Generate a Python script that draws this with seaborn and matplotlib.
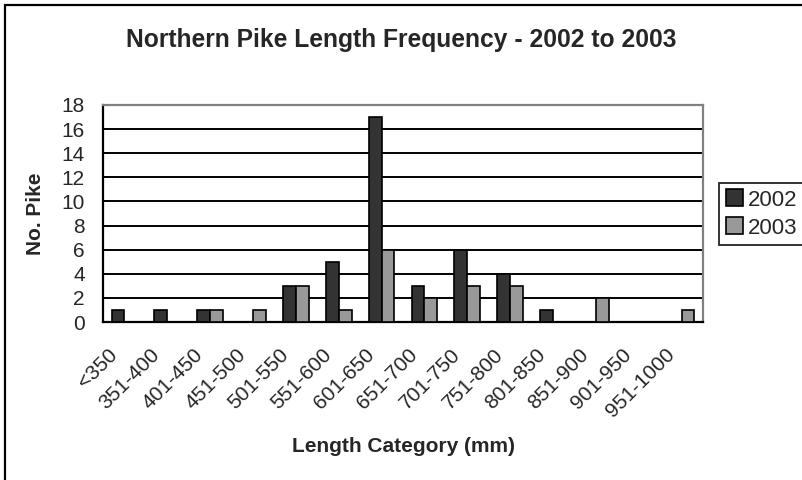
import matplotlib
matplotlib.use("Agg")
import matplotlib.pyplot as plt
import matplotlib.transforms as mtransforms
import seaborn as sns
import pandas as pd
import numpy as np
from matplotlib.ticker import FixedLocator, NullFormatter
from matplotlib.patches import Rectangle

categories = ["<350", "351-400", "401-450", "451-500", "501-550", "551-600",
              "601-650", "651-700", "701-750", "751-800", "801-850", "851-900",
              "901-950", "951-1000"]
pike_2002 = [1, 1, 1, 0, 3, 5, 17, 3, 6, 4, 1, 0, 0, 0]
pike_2003 = [0, 0, 1, 1, 3, 1, 6, 2, 3, 3, 0, 2, 0, 1]
years = ["2002", "2003"]
colors = ["#333333", "#999999"]
y_ticks = list(range(0, 19, 2))

df = pd.DataFrame({
    "Length": categories * 2,
    "Count": pike_2002 + pike_2003,
    "Year": [years[0]] * len(categories) + [years[1]] * len(categories),
})

sns.set_style("white")
plt.rcParams['font.family'] = ['Liberation Sans', 'DejaVu Sans']

W, H = 802, 480
fig = plt.figure(figsize=(W / 100, H / 100), dpi=100)
ax = fig.add_axes([103 / W, 1 - 322 / H, 600 / W, 217 / H])

sns.barplot(data=df, x="Length", y="Count", hue="Year", order=categories,
            hue_order=years, palette=colors, width=0.6, edgecolor="black",
            linewidth=1.2, errorbar=None, ax=ax, zorder=3)

ax.set_ylim(0, 18)
ax.set_yticks(y_ticks)
ax.yaxis.grid(True, color="black", linewidth=1.4)
ax.set_axisbelow(True)
ax.set_xlim(-0.5, len(categories) - 0.5)
ax.xaxis.set_major_locator(FixedLocator(np.arange(-0.5, len(categories), 1)))
ax.xaxis.set_major_formatter(NullFormatter())
ax.set_xticks(np.arange(len(categories)), labels=categories, minor=True)
ax.tick_params(axis="x", which="minor", length=0, labelsize=15, pad=12)
ax.tick_params(axis="x", which="major", length=6, width=1.4, color="black", direction="out")
ax.tick_params(axis="y", length=7, width=1.4, color="black", direction="out", labelsize=15, pad=6)
shift = mtransforms.ScaledTranslation(-17 / 100, -6 / 100, fig.dpi_scale_trans)
for lab in ax.get_xticklabels(minor=True):
    lab.set_rotation(45)
    lab.set_ha("right")
    lab.set_rotation_mode("anchor")
    lab.set_transform(lab.get_transform() + shift)

for side in ["left", "bottom"]:
    ax.spines[side].set_color("black")
    ax.spines[side].set_linewidth(1.6)
for side in ["top", "right"]:
    ax.spines[side].set_color("#808080")
    ax.spines[side].set_linewidth(1.6)

ax.set_xlabel("Length Category (mm)", fontsize=15, fontweight="bold", labelpad=12)
ax.set_ylabel("No. Pike", fontsize=15, fontweight="bold", labelpad=12)

fig.text(0.5, 1 - 40 / H, "Northern Pike Length Frequency - 2002 to 2003",
         ha="center", va="center", fontsize=17.7, fontweight="bold")

leg = ax.legend(loc="center left", bbox_to_anchor=(719 / W, 1 - 214 / H),
                bbox_transform=fig.transFigure, frameon=True, fontsize=16,
                handlelength=0.8, handleheight=0.8, handletextpad=0.2,
                borderpad=0.3, labelspacing=0.3, borderaxespad=0, fancybox=False)
leg.get_frame().set_edgecolor("black")
leg.get_frame().set_linewidth(1.4)

fig.patches.append(Rectangle((5 / W, -0.1), 1.2, 1 - 5 / H + 0.1, transform=fig.transFigure,
                             fill=False, edgecolor="black", linewidth=1.6))

fig.savefig("out.png", dpi=100)
